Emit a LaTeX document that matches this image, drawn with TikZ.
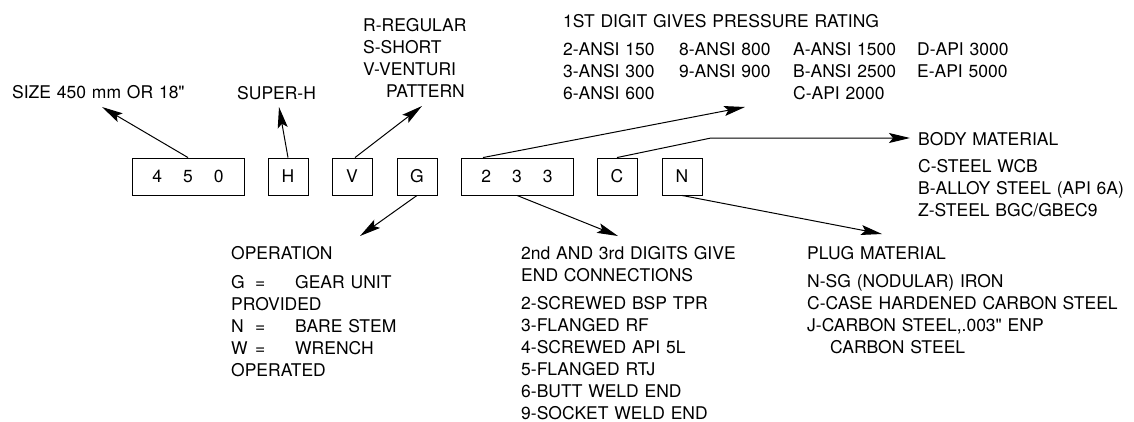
\documentclass[tikz,border=0pt]{standalone}
\usepackage{fontspec}
\newfontfamily\hvfont{TeX Gyre Heros}
\usetikzlibrary{arrows.meta}
\newcommand{\codefont}{\hvfont\fontsize{17.5}{22}\selectfont}
\newcommand{\oprow}[2]{\makebox[24pt][l]{#1}\makebox[40pt][l]{=}#2}
\tikzset{
  codebox/.style={draw=black, line width=0.9pt, minimum width=40pt,
                  minimum height=37pt, inner sep=0pt, font=\codefont},
  widebox/.style={codebox, minimum width=112pt},
  lbl/.style={font=\codefont, align=left, text width=340pt, inner sep=0pt, anchor=base west},
  ptr/.style={-{Stealth[length=21pt, width=10pt, inset=4pt]}, line width=1pt},
}

\begin{document}
\begin{tikzpicture}[x=1pt, y=-1pt]
    \useasboundingbox (0,0) rectangle (1134,421);
    % code boxes
    \node[widebox] (b450) at (188,176.5) {4\hspace{21pt}5\hspace{21pt}0};
    \node[codebox] (bH) at (288,176.5) {H};
    \node[codebox] (bV) at (352,176.5) {V};
    \node[codebox] (bG) at (417,176.5) {G};
    \node[widebox] (b233) at (517,176.5) {2\hspace{21pt}3\hspace{21pt}3};
    \node[codebox] (bC) at (617,176.5) {C};
    \node[codebox] (bN) at (682,176.5) {N};
    % labels
    \node[lbl] (size) at (12,98) {SIZE 450 mm OR 18"};
    \node[lbl] (super) at (237,99) {SUPER-H};
    \node[lbl] (patt) at (363,31) {R-REGULAR\\S-SHORT\\V-VENTURI\\\hspace*{23pt}PATTERN};
    \node[lbl] (press) at (563,27) {1ST DIGIT GIVES PRESSURE RATING};
    \node[lbl] (pa) at (563,55) {2-ANSI 150\\3-ANSI 300\\6-ANSI 600};
    \node[lbl] (pb) at (679,55) {8-ANSI 800\\9-ANSI 900};
    \node[lbl] (pc) at (793,55) {A-ANSI 1500\\B-ANSI 2500\\C-API 2000};
    \node[lbl] (pd) at (917,55) {D-API 3000\\E-API 5000};
    \node[lbl] (body) at (918,145) {BODY MATERIAL\\[5pt]C-STEEL WCB\\B-ALLOY STEEL (API 6A)\\Z-STEEL BGC/GBEC9};
    \node[lbl] (oper) at (231,259) {OPERATION\\[7pt]\oprow{G}{GEAR UNIT}\\PROVIDED\\\oprow{N}{BARE STEM}\\\oprow{W}{WRENCH}\\OPERATED};
    \node[lbl] (ends) at (521,259) {2nd AND 3rd DIGITS GIVE\\END CONNECTIONS\\[6pt]2-SCREWED BSP TPR\\3-FLANGED RF\\4-SCREWED API 5L\\5-FLANGED RTJ\\6-BUTT WELD END\\9-SOCKET WELD END};
    \node[lbl] (plug) at (807,259) {PLUG MATERIAL\\[6pt]N-SG (NODULAR) IRON\\C-CASE HARDENED CARBON STEEL\\J-CARBON STEEL,.003" ENP\\\hspace*{23pt}CARBON STEEL};
    % arrow tips
    \coordinate (tSize) at (102,107);
    \coordinate (tSuper) at (279,107);
    \coordinate (tPatt) at (422,106);
    \coordinate (tPress) at (745,107);
    \coordinate (kBody) at (711,138);
    \coordinate (tBody) at (910,138);
    \coordinate (tOper) at (360,236);
    \coordinate (tEnds) at (618,236);
    \coordinate (tPlug) at (882,234);
    \draw[ptr] (b450.north) -- (tSize);
    \draw[ptr] (bH.north) -- (tSuper);
    \draw[ptr] ([xshift=3pt]bV.north) -- (tPatt);
    \draw[ptr] ([xshift=-34pt]b233.north) -- (tPress);
    \draw[ptr] (bC.north) -- (kBody) -- (tBody);
    \draw[ptr] (bG.south) -- (tOper);
    \draw[ptr] (b233.south) -- (tEnds);
    \draw[ptr] (bN.south) -- (tPlug);
\end{tikzpicture}
\end{document}
